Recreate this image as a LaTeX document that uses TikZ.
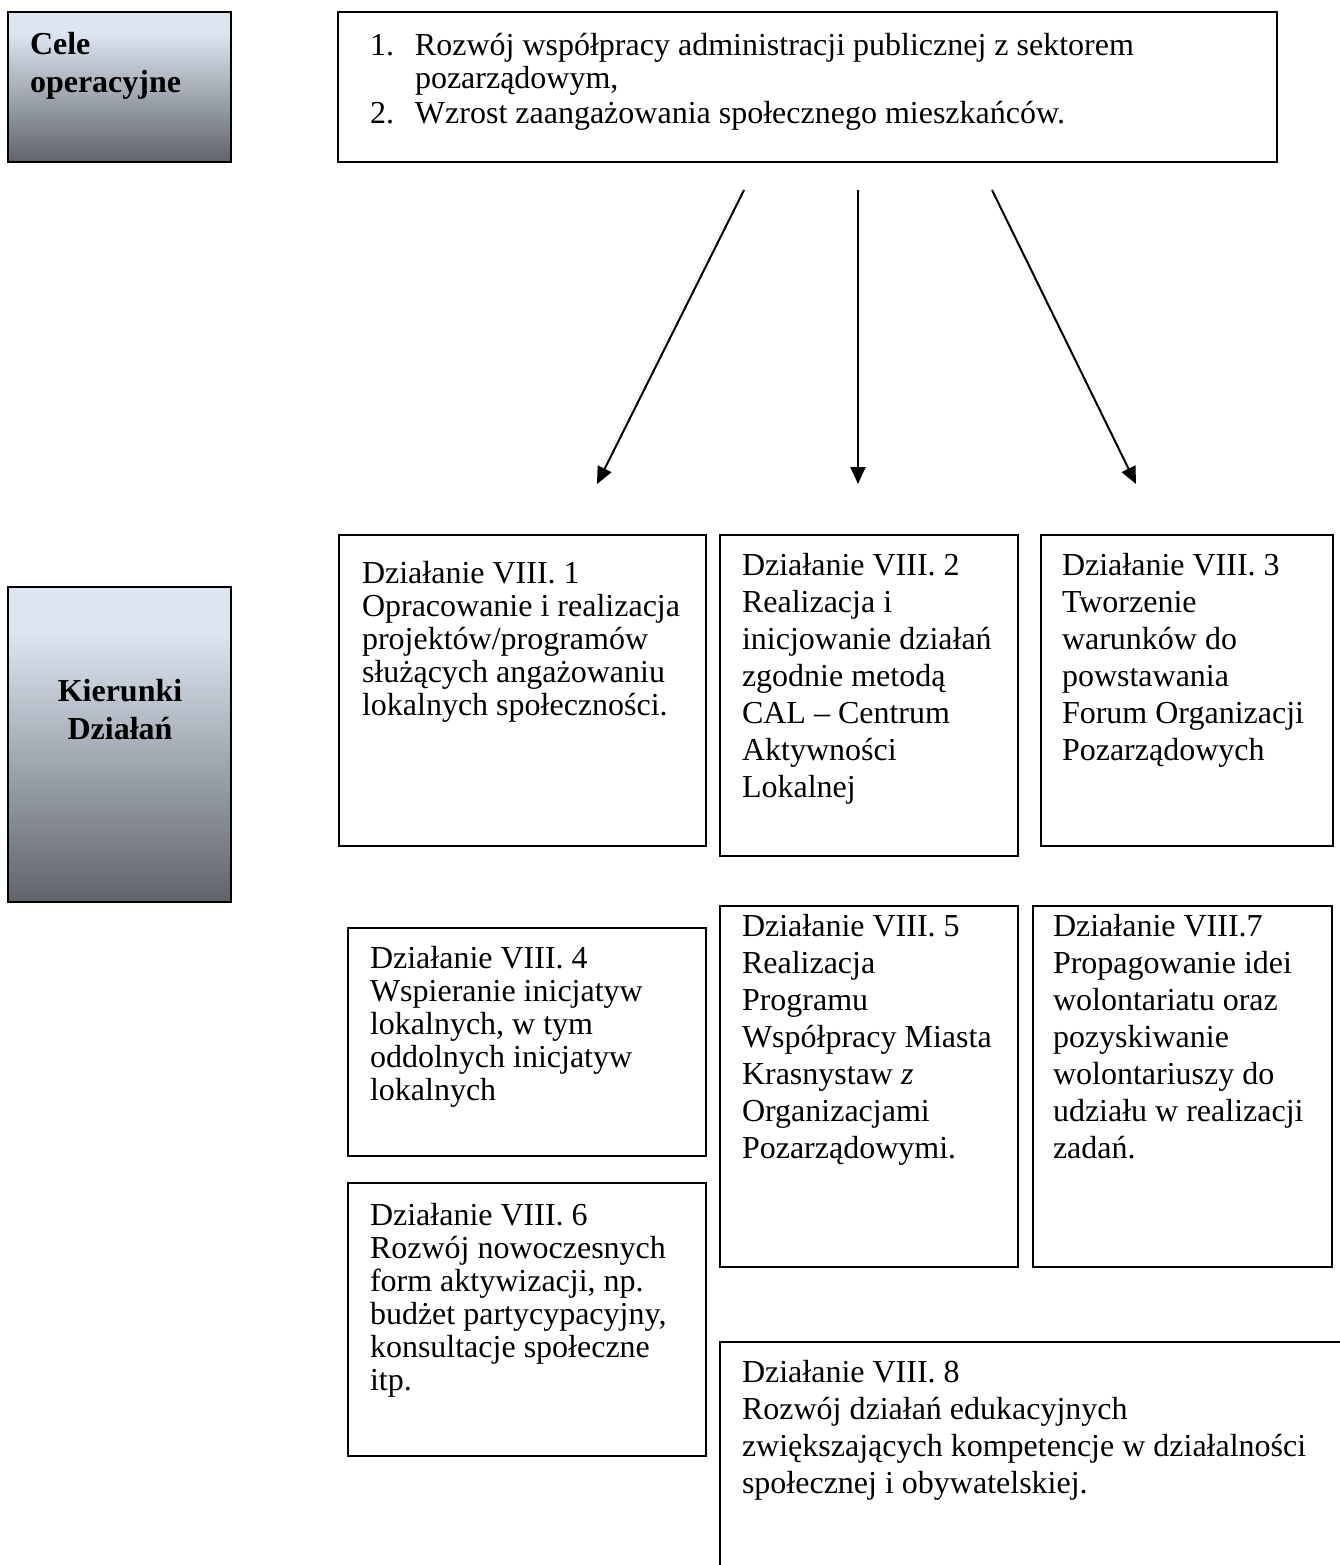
\documentclass[tikz,border=0pt]{standalone}
\usepackage{fontspec}
\setmainfont{Liberation Serif}
\usetikzlibrary{arrows.meta}
\definecolor{gtop}{RGB}{220,229,241}
\definecolor{gmid}{RGB}{168,175,185}
\definecolor{gbot}{RGB}{96,100,106}
\pgfdeclareverticalshading{hdrshade}{100bp}{color(0bp)=(gbot); color(25bp)=(gbot); color(50bp)=(gmid); color(68bp)=(gtop); color(100bp)=(gtop)}
\newcommand\fsA{\fontsize{32}{33}\selectfont}
\newcommand\fsB{\fontsize{32}{37}\selectfont}
\newcommand\fsH{\fontsize{32}{38}\selectfont\bfseries}
\begin{document}
\begin{tikzpicture}[x=1pt,y=-1pt,
  bx/.style={draw, line width=1.5pt, rectangle, inner sep=0pt, outer sep=0pt, anchor=north west},
  hdr/.style={bx, shading=hdrshade},
  txt/.style={anchor=north west, inner sep=0pt, outer sep=0pt, align=left},
  arr/.style={line width=2pt, -{Triangle[length=17pt,width=15pt]}}]
\useasboundingbox (0,0) rectangle (1339,1565);
% header boxes
\node[hdr, minimum width=223pt, minimum height=150pt] (cele) at (8,12) {};
\node[txt, font=\fsH] (celet) at (30,32) {Cele\\operacyjne};
\node[hdr, minimum width=223pt, minimum height=315pt] (kier) at (8,587) {};
\node[anchor=north, inner sep=0pt, align=center, font=\fsH] (kiert) at (120,679) {Kierunki\\Działań};
% top box
\node[bx, minimum width=939pt, minimum height=150pt] (top) at (338,12) {};
\node[txt, font=\fsA, text depth=0pt] (topt) at (370,33) {\makebox[45pt][l]{1.}Rozwój współpracy administracji publicznej z sektorem\\
\makebox[45pt][l]{}pozarządowym,\\[2pt]
\makebox[45pt][l]{2.}Wzrost zaangażowania społecznego mieszkańców.};
% arrows
\coordinate (a1s) at (744,190); \coordinate (a1e) at (597,484);
\coordinate (a2s) at (858,190); \coordinate (a2e) at (858,484);
\coordinate (a3s) at (992,190); \coordinate (a3e) at (1136,484);
\draw[arr] (a1s) -- (a1e);
\draw[arr] (a2s) -- (a2e);
\draw[arr] (a3s) -- (a3e);
% boxes
\node[bx, minimum width=367pt, minimum height=311pt] (b1) at (339,535) {};
\node[txt, font=\fsA] (b1t) at (362,561) {Działanie VIII. 1\\Opracowanie i realizacja\\projektów/programów\\służących angażowaniu\\lokalnych społeczności.};
\node[bx, minimum width=298pt, minimum height=321pt] (b2) at (720,535) {};
\node[txt, font=\fsB] (b2t) at (742,553) {Działanie VIII. 2\\Realizacja i\\inicjowanie działań\\zgodnie metodą\\CAL – Centrum\\Aktywności\\Lokalnej};
\node[bx, minimum width=292pt, minimum height=311pt] (b3) at (1041,535) {};
\node[txt, font=\fsB] (b3t) at (1062,553) {Działanie VIII. 3\\Tworzenie\\warunków do\\powstawania\\Forum Organizacji\\Pozarządowych};
\node[bx, minimum width=358pt, minimum height=228pt] (b4) at (348,928) {};
\node[txt, font=\fsA] (b4t) at (370,946) {Działanie VIII. 4\\Wspieranie inicjatyw\\lokalnych, w tym\\oddolnych inicjatyw\\lokalnych};
\node[bx, minimum width=298pt, minimum height=361pt] (b5) at (720,906) {};
\node[txt, font=\fsB] (b5t) at (742,914) {Działanie VIII. 5\\Realizacja\\Programu\\Współpracy Miasta\\Krasnystaw \textit{z}\\Organizacjami\\Pozarządowymi.};
\node[bx, minimum width=299pt, minimum height=361pt] (b7) at (1033,906) {};
\node[txt, font=\fsB] (b7t) at (1053,914) {Działanie VIII.7\\Propagowanie idei\\wolontariatu oraz\\pozyskiwanie\\wolontariuszy do\\udziału w realizacji\\zadań.};
\node[bx, minimum width=358pt, minimum height=273pt] (b6) at (348,1183) {};
\node[txt, font=\fsA] (b6t) at (370,1203) {Działanie VIII. 6\\Rozwój nowoczesnych\\form aktywizacji, np.\\budżet partycypacyjny,\\konsultacje społeczne\\itp.};
\node[bx, minimum width=630pt, minimum height=240pt] (b8) at (720,1342) {};
\node[txt, font=\fsB] (b8t) at (742,1360) {Działanie VIII. 8\\Rozwój działań edukacyjnych\\zwiększających kompetencje w działalności\\społecznej i obywatelskiej.};
\end{tikzpicture}
\end{document}
